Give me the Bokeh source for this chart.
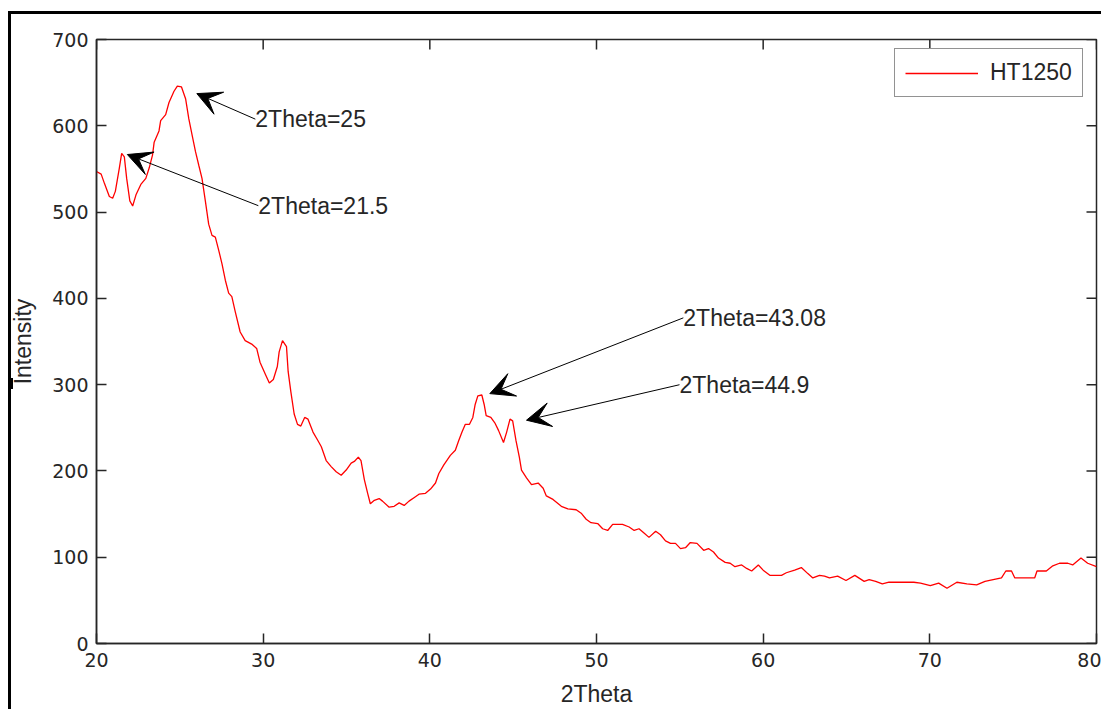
import math
from bokeh.plotting import figure
from bokeh.models import ColumnDataSource, Arrow, VeeHead, FixedTicker
from bokeh.core.properties import value
from bokeh.embed import file_html
from bokeh.resources import INLINE

two_theta = [20.0, 20.28, 20.48, 20.77, 20.97, 21.13, 21.37, 21.51, 21.67, 21.81, 22.0, 22.17,
             22.37, 22.66, 22.96, 23.16, 23.36, 23.46, 23.75, 23.85, 24.15, 24.35, 24.65, 24.85,
             25.1, 25.35, 25.54, 25.74, 25.94, 26.14, 26.33, 26.53, 26.73, 26.93, 27.13, 27.33,
             27.53, 27.73, 27.93, 28.12, 28.32, 28.62, 28.92, 29.31, 29.61, 29.81, 30.11, 30.37,
             30.61, 30.85, 30.96, 31.16, 31.4, 31.5, 31.66, 31.86, 32.06, 32.26, 32.49, 32.69,
             32.99, 33.29, 33.49, 33.78, 34.08, 34.38, 34.68, 34.98, 35.28, 35.47, 35.71, 35.87,
             36.07, 36.27, 36.43, 36.67, 36.96, 37.16, 37.56, 37.86, 38.16, 38.46, 38.75, 39.05,
             39.35, 39.74, 40.04, 40.34, 40.54, 40.84, 41.23, 41.53, 41.73, 41.93, 42.13, 42.38,
             42.58, 42.72, 42.88, 43.12, 43.26, 43.38, 43.66, 43.92, 44.12, 44.42, 44.61, 44.81,
             44.97, 45.17, 45.37, 45.5, 45.8, 46.1, 46.5, 46.8, 46.99, 47.39, 47.89, 48.28,
             48.78, 49.08, 49.38, 49.67, 50.07, 50.37, 50.67, 50.97, 51.56, 51.96, 52.26, 52.55,
             52.85, 53.15, 53.55, 53.84, 54.14, 54.44, 54.74, 55.04, 55.34, 55.63, 56.03, 56.43,
             56.72, 57.02, 57.32, 57.72, 58.02, 58.31, 58.71, 59.01, 59.31, 59.71, 60.0, 60.4,
             61.1, 61.39, 61.89, 62.29, 62.68, 62.98, 63.38, 63.68, 63.98, 64.47, 64.97, 65.5,
             66.06, 66.36, 66.75, 67.15, 67.55, 68.25, 69.04, 69.44, 70.03, 70.53, 71.03, 71.62,
             72.22, 72.81, 73.31, 73.8, 74.3, 74.56, 74.9, 75.1, 75.79, 76.29, 76.43, 76.99,
             77.38, 77.78, 78.28, 78.57, 79.07, 79.47, 80.0]
intensity = [547, 544, 533, 518, 516, 524, 551, 568, 564, 539, 513, 507,
             520, 532, 539, 551, 566, 581, 594, 606, 613, 627, 640, 646,
             645, 631, 608, 589, 570, 554, 539, 513, 486, 473, 471, 456,
             440, 421, 406, 402, 385, 361, 351, 347, 342, 326, 313, 302,
             306, 321, 338, 351, 344, 315, 292, 266, 254, 252, 262, 260,
             245, 235, 228, 212, 205, 199, 195, 201, 209, 211, 216, 212,
             190, 174, 162, 166, 168, 165, 158, 159, 163, 160, 165, 169,
             173, 174, 179, 186, 197, 207, 218, 224, 235, 245, 254, 254,
             262, 277, 287, 288, 277, 264, 262, 255, 247, 233, 245, 260,
             258, 235, 216, 201, 192, 184, 186, 180, 171, 167, 159, 156,
             155, 151, 144, 140, 139, 133, 131, 138, 138, 135, 131, 133,
             128, 123, 130, 126, 119, 116, 116, 110, 111, 117, 116, 108,
             110, 106, 99, 94, 93, 89, 91, 87, 84, 91, 85, 79,
             79, 82, 85, 88, 81, 76, 79, 78, 76, 78, 73, 79,
             72, 74, 72, 69, 71, 71, 71, 70, 67, 70, 64, 71,
             69, 68, 72, 74, 76, 84, 84, 76, 76, 76, 84, 84,
             90, 93, 93, 91, 99, 93, 89]

series_name = "HT1250"
x_ticks = [20, 30, 40, 50, 60, 70, 80]
y_ticks = [0, 100, 200, 300, 400, 500, 600, 700]
x_min, x_max = 20, 80
y_min, y_max = 0, 700

ann_labels = ["2Theta=25", "2Theta=21.5", "2Theta=43.08", "2Theta=44.9"]
ann_tail_x = [29.53, 29.71, 55.21, 54.98]
ann_tail_y = [607.7, 507.4, 377.4, 299.9]
ann_head_x = [26.02, 21.85, 43.6, 45.8]
ann_head_y = [637.3, 566.7, 289.6, 258.8]

ink = "#262626"
label_font = "Liberation Sans"

p = figure(width=1101, height=709, x_range=(x_min, x_max), y_range=(y_min, y_max),
           output_backend="svg", toolbar_location=None,
           min_border_left=96, min_border_top=39, min_border_right=5, min_border_bottom=63,
           x_axis_label="2Theta", y_axis_label="Intensity")
p.border_fill_color = None
p.styles = {
    "background": "linear-gradient(#000,#000) 8px 11px / 3px calc(100% - 11px) no-repeat, "
                  "linear-gradient(#000,#000) 8px 11px / calc(100% - 8px) 3px no-repeat, "
                  "linear-gradient(#000,#000) 8px 378px / 5px 11px no-repeat, #fff"
}
p.xgrid.visible = False
p.ygrid.visible = False
p.outline_line_color = ink
p.outline_line_width = 1.5
p.background_fill_color = "white"

p.line(two_theta, intensity, line_color="red", line_width=1.3, legend_label=series_name)

# inward ticks on the top and right edges of the box
p.ray(x=x_ticks, y=[y_max] * len(x_ticks), length=10, length_units="screen",
      angle=-math.pi / 2, line_color=ink, line_width=1.5)
p.ray(x=[x_max] * len(y_ticks), y=y_ticks, length=10, length_units="screen",
      angle=math.pi, line_color=ink, line_width=1.5)

arr_src = ColumnDataSource(dict(xs=ann_tail_x, ys=ann_tail_y, xe=ann_head_x, ye=ann_head_y))
p.add_layout(Arrow(end=VeeHead(size=24, fill_color="black", line_color="black"),
                   x_start="xs", y_start="ys", x_end="xe", y_end="ye",
                   source=arr_src, line_color="black", line_width=1))
p.text(ann_tail_x, ann_tail_y, text=ann_labels, text_align="left", text_baseline="middle",
       text_font=value(label_font), text_font_size="23px", text_color=ink)

for ax in (p.xaxis[0], p.yaxis[0]):
    ax.axis_line_color = ink
    ax.axis_line_width = 1.5
    ax.major_tick_in = 10
    ax.major_tick_out = 0
    ax.minor_tick_line_color = None
    ax.major_tick_line_color = ink
    ax.major_tick_line_width = 1.5
    ax.major_label_text_font = "DejaVu Sans"
    ax.major_label_text_font_size = "19px"
    ax.major_label_text_color = ink
    ax.axis_label_text_font = label_font
    ax.axis_label_text_font_style = "normal"
    ax.axis_label_text_font_size = "23px"
    ax.axis_label_text_color = ink
p.xaxis[0].ticker = FixedTicker(ticks=x_ticks)
p.yaxis[0].ticker = FixedTicker(ticks=y_ticks)
p.xaxis[0].major_label_standoff = 9
p.yaxis[0].major_label_standoff = 8
p.xaxis[0].axis_label_standoff = 11
p.yaxis[0].axis_label_standoff = 13

lg = p.legend[0]
lg.location = (798, 546)
lg.margin = 0
lg.padding = 10
lg.spacing = 0
lg.glyph_width = 73
lg.glyph_height = 20
lg.label_height = 20
lg.label_standoff = 12
lg.label_text_font = label_font
lg.label_text_font_size = "23px"
lg.label_text_color = ink
lg.border_line_color = ink
lg.border_line_width = 1.5
lg.background_fill_color = "white"
lg.background_fill_alpha = 1

open("out.html", "w").write(file_html(p, INLINE))
